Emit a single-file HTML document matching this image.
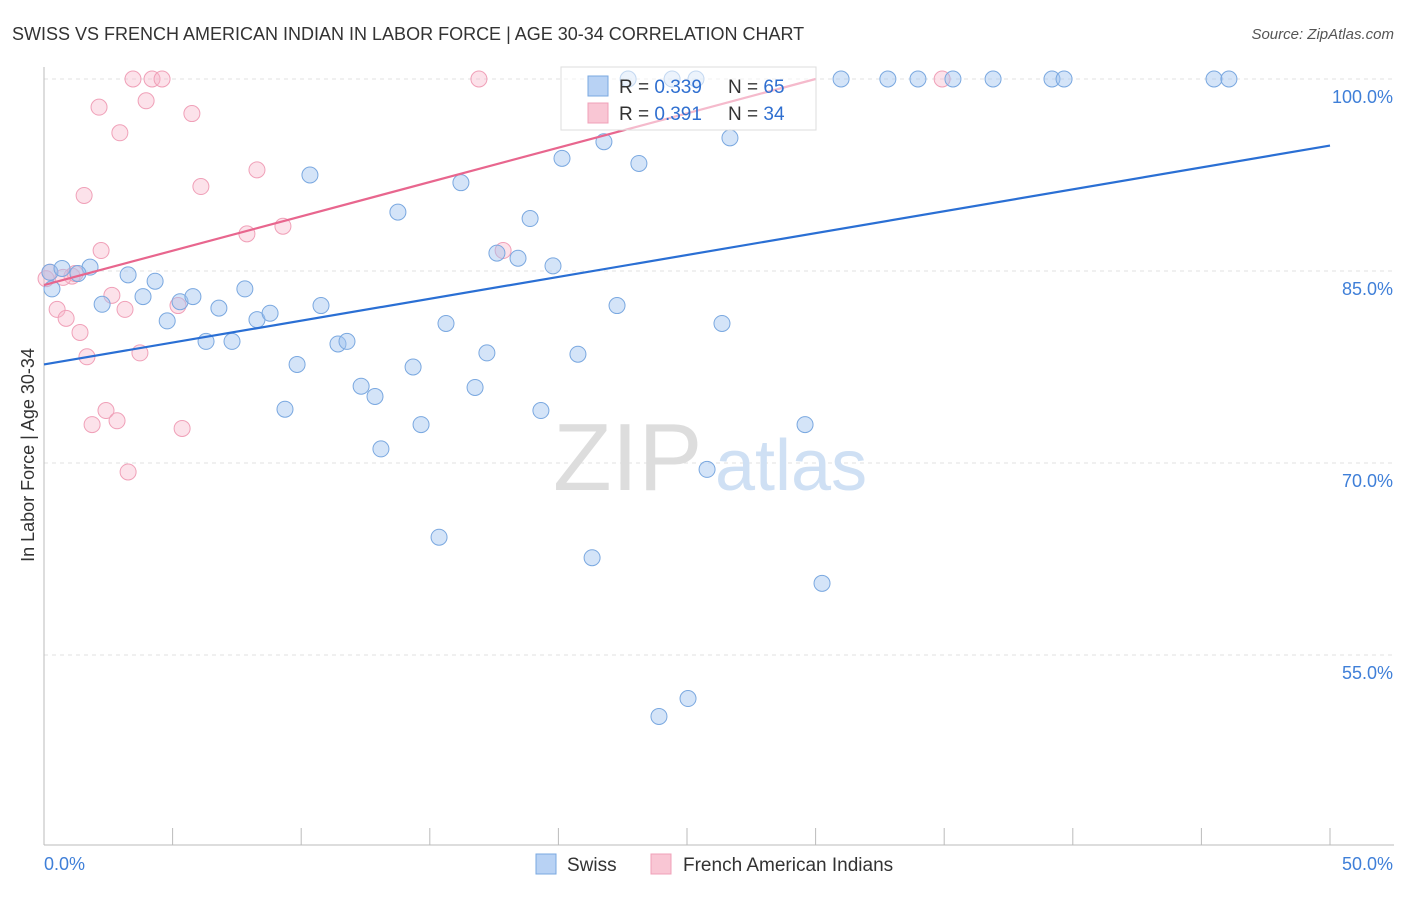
<!DOCTYPE html>
<html><head><meta charset="utf-8"><style>
body{margin:0;background:#fff;font-family:"Liberation Sans",sans-serif;}
svg text{font-family:"Liberation Sans",sans-serif;}
</style></head><body>
<svg id="chart" width="1406" height="892" xmlns="http://www.w3.org/2000/svg">
<text x="12" y="40" font-size="18" fill="#333">SWISS VS FRENCH AMERICAN INDIAN IN LABOR FORCE | AGE 30-34 CORRELATION CHART</text>
<text x="1394" y="39" font-size="15" fill="#555" text-anchor="end" font-style="italic">Source: ZipAtlas.com</text>
<g id="grid"></g>
<g><text x="553" y="490" font-size="96" fill="#ddd" font-family="Liberation Serif,serif">ZIP</text><text x="715" y="490" font-size="72" fill="#cfe0f4">atlas</text></g>
<g id="marks"></g>
<text transform="translate(34,455) rotate(-90)" font-size="18" fill="#333" text-anchor="middle">In Labor Force | Age 30-34</text>
<g>
<rect x="561" y="67" width="255" height="63" fill="#fff" fill-opacity="0.55" stroke="#ddd"/>
<rect x="588" y="76" width="20" height="20" fill="#b8d2f4" stroke="#7aa8e0"/>
<text x="619" y="93" font-size="19" fill="#333">R = <tspan fill="#2f6fd0">0.339</tspan></text>
<text x="728" y="93" font-size="19" fill="#333">N = <tspan fill="#2f6fd0">65</tspan></text>
<rect x="588" y="103" width="20" height="20" fill="#f9c6d4" stroke="#f0a0b8"/>
<text x="619" y="120" font-size="19" fill="#333">R = <tspan fill="#2f6fd0">0.391</tspan></text>
<text x="728" y="120" font-size="19" fill="#333">N = <tspan fill="#2f6fd0">34</tspan></text>
</g>
<g>
<rect x="536" y="854" width="20" height="20" fill="#b8d2f4" stroke="#7aa8e0"/>
<text x="567" y="871" font-size="19" fill="#333">Swiss</text>
<rect x="651" y="854" width="20" height="20" fill="#f9c6d4" stroke="#f0a0b8"/>
<text x="683" y="871" font-size="19" fill="#333">French American Indians</text>
</g>
</svg>
<script>
const yTicks=[100,85,70,55];
const xTickLabels=["0.0%","50.0%"];
const swissX=[0.23,0.70,1.79,1.32,0.31,2.26,3.27,3.85,4.32,4.79,5.29,5.79,6.30,6.80,7.31,7.81,8.28,8.79,9.37,9.84,10.34,10.77,11.43,11.78,12.33,12.87,13.10,13.76,14.35,14.66,15.36,15.63,16.21,16.76,17.22,17.61,18.43,18.90,19.32,19.79,20.14,20.76,21.31,21.77,22.28,22.71,23.13,23.91,24.42,25.04,25.35,25.78,26.36,26.67,29.59,30.25,30.99,32.81,33.98,35.34,36.90,39.19,39.66,45.49,46.07];
const swissY=[84.9,85.2,85.3,84.8,83.6,82.4,84.7,83.0,84.2,81.1,82.6,83.0,79.5,82.1,79.5,83.6,81.2,81.7,74.2,77.7,92.5,82.3,79.3,79.5,76.0,75.2,71.1,89.6,77.5,73.0,64.2,80.9,91.9,75.9,78.6,86.4,86.0,89.1,74.1,85.4,93.8,78.5,62.6,95.1,82.3,100,93.4,50.2,100,51.6,100,69.5,80.9,95.4,73.0,60.6,100,100,100,100,100,100,100,100,100];
const frX=[0.08,0.23,0.51,0.86,1.09,1.40,1.56,1.67,1.87,2.14,2.22,2.41,2.64,2.84,2.95,3.15,3.27,3.46,3.73,3.97,4.20,4.59,5.21,5.37,5.75,6.10,7.89,8.28,9.29,16.91,17.85,34.92,1.21,0.74];
const frY=[84.4,84.9,82.0,81.3,84.6,80.2,90.9,78.3,73.0,97.8,86.6,74.1,83.1,73.3,95.8,82.0,69.3,100,78.6,98.3,100,100,82.3,72.7,97.3,91.6,87.9,92.9,88.5,100,86.6,100,84.8,84.5];
const swissLine=[[0,77.7],[50,94.8]];
const frLine=[[0,83.9],[30,100]];
const NS="http://www.w3.org/2000/svg";
const X=v=>44+v/50*1286, Y=v=>79+(100-v)*12.8;
function mk(t,a,p){const e=document.createElementNS(NS,t);for(const k in a)e.setAttribute(k,a[k]);p.appendChild(e);return e;}
const grid=document.getElementById('grid'),marks=document.getElementById('marks');
yTicks.forEach(t=>{
 const l=mk('line',{x1:44,x2:1394,y1:Y(t),y2:Y(t),stroke:'#e2e2e2','stroke-dasharray':'4,4'},grid);
 
 
 const tx=mk('text',{x:1393,y:Y(t)+24,'font-size':18,fill:'#3f7fd8','text-anchor':'end'},grid);tx.textContent=t.toFixed(1)+'%';
 
 
});
mk('line',{x1:44,x2:44,y1:67,y2:845,stroke:'#bbb'},grid);
mk('line',{x1:44,x2:1394,y1:845,y2:845,stroke:'#bbb'},grid);
for(let i=0;i<=10;i++){mk('line',{x1:X(i*5),x2:X(i*5),y1:828,y2:845,stroke:'#bbb'},grid);}
xTickLabels.forEach((s,i)=>{const t=mk('text',{x:i?1393:44,y:870,'font-size':18,fill:'#3f7fd8','text-anchor':i?'end':'start'},grid);t.textContent=s;
 
 });
frX.forEach((x,i)=>{const c=mk('circle',{cx:X(x),cy:Y(frY[i]),r:8,fill:'rgba(248,182,202,0.4)',stroke:'#f0a0b8','stroke-width':1},marks);
 
 });
swissX.forEach((x,i)=>{const c=mk('circle',{cx:X(x),cy:Y(swissY[i]),r:8,fill:'rgba(160,196,240,0.45)',stroke:'#7aa8e0','stroke-width':1},marks);
 
 });
const l1=mk('line',{x1:X(swissLine[0][0]),y1:Y(swissLine[0][1]),x2:X(swissLine[1][0]),y2:Y(swissLine[1][1]),stroke:'#2a6fd4','stroke-width':2.2},marks);


const l2=mk('line',{x1:X(frLine[0][0]),y1:Y(frLine[0][1]),x2:X(frLine[1][0]),y2:Y(frLine[1][1]),stroke:'#e8668e','stroke-width':2.2},marks);


</script>
</body></html>
